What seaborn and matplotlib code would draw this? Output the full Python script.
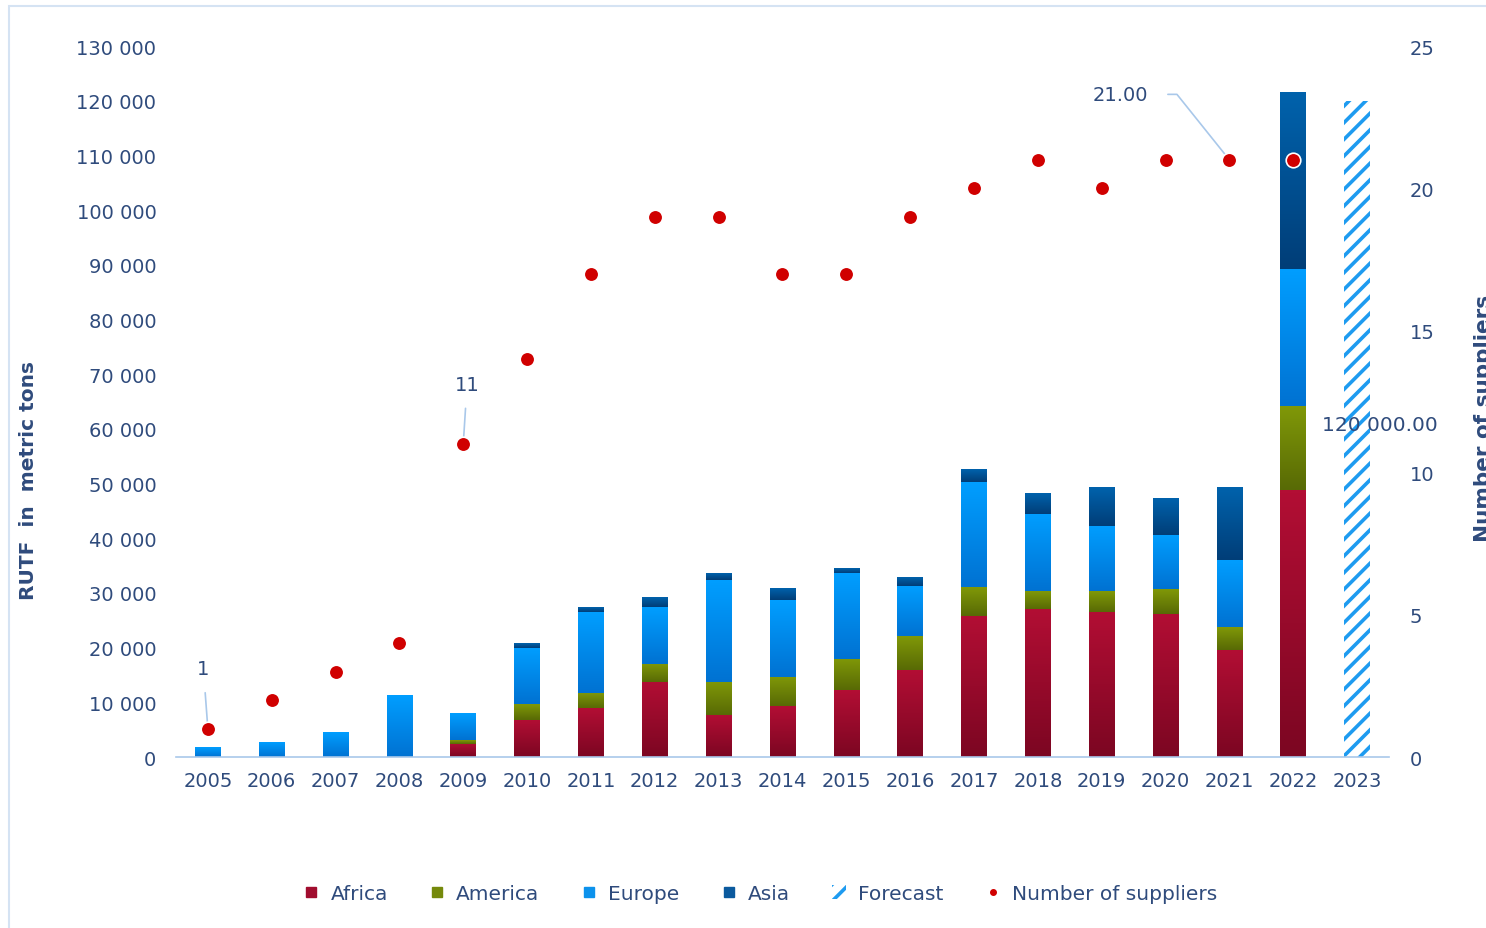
import numpy as np
import pandas as pd
import matplotlib
matplotlib.use("Agg")
import matplotlib.pyplot as plt
import seaborn as sns
from matplotlib.patches import Rectangle
from matplotlib.lines import Line2D
from matplotlib.colors import LinearSegmentedColormap

years = [str(y) for y in range(2005, 2024)]

# RUTF volumes by region (metric tons); 2023 is forecast only
africa = [0, 0, 0, 0, 2400, 6800, 8900, 13800, 7700, 9300, 12200, 15900,
          25800, 27100, 26600, 26200, 19600, 48800, 0]
america = [0, 0, 0, 0, 700, 2900, 2900, 3300, 6100, 5400, 5800, 6200,
           5300, 3200, 3700, 4500, 4100, 15300, 0]
europe = [1800, 2700, 4400, 11300, 4900, 10300, 14800, 10300, 18600, 14000, 15600, 9100,
          19100, 14100, 12000, 9900, 12400, 25100, 0]
asia = [0, 0, 0, 0, 0, 800, 900, 1800, 1200, 2100, 900, 1600,
        2300, 3700, 7000, 6600, 13200, 32200, 0]
forecast = [0] * 18 + [120000]

suppliers = [1, 2, 3, 4, 11, 14, 17, 19, 19, 17, 17, 19, 20, 21, 20, 21, 21, 21]

left_ticks = list(range(0, 130001, 10000))
right_ticks = [0, 5, 10, 15, 20, 25]

c_africa = "#A10D2E"
c_america = "#75890B"
c_europe = "#0C92EC"
c_asia = "#0B5A9E"
c_forecast = "#1E9BF0"
c_dot = "#D00000"
c_text = "#2F4B7C"
c_line = "#A9C8EA"

# top -> bottom shading of each segment
shades = {
    "Africa": ("#B20E34", "#7C0622"),
    "America": ("#809808", "#586A05"),
    "Europe": ("#009EFF", "#0072D2"),
    "Asia": ("#0062AC", "#003E78"),
}

df = pd.DataFrame({"year": years, "Africa": africa, "America": america,
                   "Europe": europe, "Asia": asia})
df["c1"] = df["Africa"]
df["c2"] = df["c1"] + df["America"]
df["c3"] = df["c2"] + df["Europe"]
df["c4"] = df["c3"] + df["Asia"]

sns.set_theme(style="white")
plt.rcParams["font.family"] = ["DejaVu Sans"]
plt.rcParams["hatch.linewidth"] = 2.6

fig = plt.figure(figsize=(14.86, 9.29), dpi=100)
ax = fig.add_axes([0.1184, 0.184, 0.8163, 0.7654])

# stacked bars: draw cumulative totals from the top down
for col, color in [("c4", c_asia), ("c3", c_europe), ("c2", c_america), ("c1", c_africa)]:
    sns.barplot(data=df, x="year", y=col, color=color, width=0.4, ax=ax,
                saturation=1, linewidth=0)

# gradient fill on each visible segment
bw = 0.4
grad = np.linspace(1, 0, 64).reshape(-1, 1)
prev = np.zeros(len(years))
for reg in ["Africa", "America", "Europe", "Asia"]:
    cmap = LinearSegmentedColormap.from_list(reg, [shades[reg][1], shades[reg][0]])
    vals = df[reg].to_numpy()
    for i, v in enumerate(vals):
        if v > 0:
            ax.imshow(grad, extent=[i - bw / 2, i + bw / 2, prev[i], prev[i] + v],
                      aspect="auto", cmap=cmap, vmin=0, vmax=1, zorder=2,
                      interpolation="bilinear")
    prev = prev + vals

ax.bar(np.arange(len(years)), forecast, width=bw, color="white",
       edgecolor=c_forecast, hatch="//", linewidth=0, zorder=2)

ax.set_xlim(-0.5, len(years) - 0.5)
ax.set_ylim(0, 130000)
ax.set_yticks(left_ticks)
ax.set_yticklabels([f"{v:,}".replace(",", " ") for v in left_ticks])
ax.set_xlabel("")
ax.set_ylabel("")
ax.tick_params(axis="y", length=0, pad=14, labelsize=14, labelcolor=c_text)
ax.tick_params(axis="x", length=0, pad=10, labelsize=14, labelcolor=c_text)
for s in ["top", "left", "right"]:
    ax.spines[s].set_visible(False)
ax.spines["bottom"].set_color(c_line)
ax.spines["bottom"].set_linewidth(1.2)
ax.spines["bottom"].set_zorder(3)

ax2 = ax.twinx()
sns.scatterplot(x=np.arange(len(suppliers)), y=suppliers, ax=ax2, color=c_dot,
                s=110, edgecolor="white", linewidth=1.2, zorder=5, legend=False)
ax2.set_ylim(0, 25)
ax2.set_yticks(right_ticks)
ax2.tick_params(axis="y", length=0, pad=15, labelsize=14, labelcolor=c_text)
for s in ["top", "left", "right", "bottom"]:
    ax2.spines[s].set_visible(False)
ax2.grid(False)
ax.grid(False)

# data labels
ax2.annotate("1", xy=(0, suppliers[0]), xytext=(-0.07, 3.1), ha="center", va="center",
             fontsize=14, color=c_text,
             arrowprops=dict(arrowstyle="-", color=c_line, lw=1.2, shrinkA=8, shrinkB=2))
ax2.annotate("11", xy=(4, suppliers[4]), xytext=(4.06, 13.1), ha="center", va="center",
             fontsize=14, color=c_text,
             arrowprops=dict(arrowstyle="-", color=c_line, lw=1.2, shrinkA=8, shrinkB=2))
ax2.annotate("21.00", xy=(16, suppliers[16]), xytext=(14.29, 23.3), ha="center", va="center",
             fontsize=14, color=c_text,
             arrowprops=dict(arrowstyle="-", color=c_line, lw=1.2, shrinkA=12, shrinkB=3,
                             connectionstyle="angle,angleA=0,angleB=128.7,rad=0"))
ax2.text(18.35, 11.7, "120 000.00", ha="center", va="center", fontsize=14.5, color=c_text)

fig.text(0.019, 0.483, "RUTF  in  metric tons", rotation=90, ha="center", va="center",
         fontsize=14.5, fontweight="bold", color=c_text)
fig.text(0.9985, 0.55, "Number of suppliers", rotation=90, ha="center", va="center",
         fontsize=15.5, fontweight="bold", color=c_text)

handles = [
    Line2D([], [], marker="s", linestyle="", color=c_africa, markersize=7),
    Line2D([], [], marker="s", linestyle="", color=c_america, markersize=7),
    Line2D([], [], marker="s", linestyle="", color=c_europe, markersize=7),
    Line2D([], [], marker="s", linestyle="", color=c_asia, markersize=7),
    Rectangle((0, 0), 1, 1, facecolor="white", edgecolor=c_forecast, hatch="//", linewidth=0),
    Line2D([], [], marker="o", linestyle="", color=c_dot, markersize=4),
]
labels = ["Africa", "America", "Europe", "Asia", "Forecast", "Number of suppliers"]
fig.legend(handles, labels, loc="center", bbox_to_anchor=(0.512, 0.037), ncol=6,
           frameon=False, fontsize=14.5, labelcolor=c_text, handlelength=0.7,
           handletextpad=0.6, columnspacing=2.1)

# outer frame
fig.patches.append(Rectangle((0.006, -0.05), 1.2, 1.043, transform=fig.transFigure,
                             fill=False, edgecolor="#D5E3F3", linewidth=1.5))

fig.savefig("out.png", dpi=100)
